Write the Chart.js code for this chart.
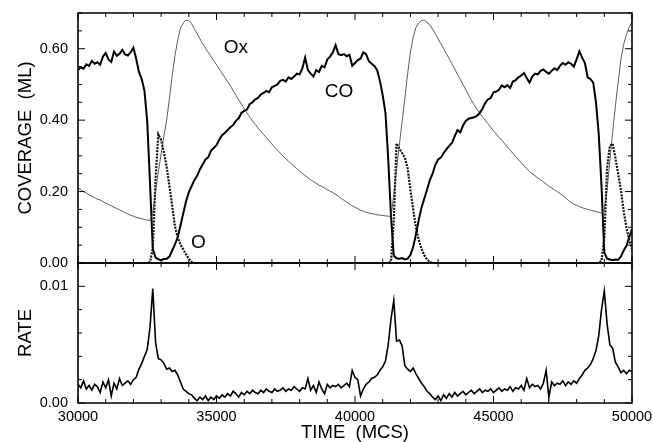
<!DOCTYPE html>
<html>
<head>
<meta charset="utf-8">
<script src="https://cdn.jsdelivr.net/npm/chart.js@4"></script>
<style>
  body { margin: 0; background: #fff; }
</style>
</head>
<body>
<canvas id="cycle" width="653" height="442"></canvas>
<script>
// oscillation run, sampled every 100 MCS from 30000 to 50000

const tStart = 30000
const tStep = 100
const times = Array.from({ length: 201 }, (_, i) => tStart + i * tStep)

// coverage (ML)
const coverageCO = [
  0.540, 0.548, 0.544, 0.556, 0.552, 0.566, 0.558, 0.562, 0.555, 0.578,
  0.588, 0.570, 0.563, 0.592, 0.580, 0.586, 0.597, 0.584, 0.581, 0.590,
  0.603, 0.572, 0.535, 0.515, 0.482, 0.395, 0.224, 0.040, 0.015, 0.010,
  0.008, 0.011, 0.012, 0.018, 0.035, 0.052, 0.072, 0.105, 0.139, 0.172,
  0.198, 0.215, 0.232, 0.244, 0.262, 0.276, 0.290, 0.296, 0.314, 0.322,
  0.330, 0.345, 0.358, 0.364, 0.372, 0.380, 0.386, 0.398, 0.405, 0.420,
  0.426, 0.430, 0.445, 0.450, 0.458, 0.462, 0.472, 0.476, 0.482, 0.478,
  0.492, 0.496, 0.500, 0.510, 0.513, 0.508, 0.520, 0.515, 0.522, 0.530,
  0.528, 0.545, 0.575, 0.540, 0.530, 0.522, 0.540, 0.535, 0.552, 0.548,
  0.570, 0.578, 0.590, 0.610, 0.585, 0.582, 0.585, 0.579, 0.583, 0.552,
  0.560, 0.568, 0.572, 0.590, 0.585, 0.565, 0.558, 0.552, 0.540, 0.510,
  0.470, 0.420, 0.290, 0.130, 0.020, 0.013, 0.012, 0.014, 0.010, 0.012,
  0.022, 0.045, 0.080, 0.120, 0.155, 0.180, 0.205, 0.232, 0.250, 0.275,
  0.290, 0.295, 0.308, 0.318, 0.328, 0.336, 0.355, 0.372, 0.366, 0.385,
  0.398, 0.404, 0.406, 0.408, 0.412, 0.420, 0.432, 0.448, 0.458, 0.462,
  0.478, 0.480, 0.485, 0.497, 0.492, 0.498, 0.490, 0.508, 0.512, 0.520,
  0.525, 0.532, 0.518, 0.505, 0.522, 0.530, 0.528, 0.538, 0.542, 0.535,
  0.530, 0.538, 0.545, 0.540, 0.552, 0.560, 0.555, 0.562, 0.558, 0.550,
  0.570, 0.593, 0.575, 0.560, 0.520, 0.515, 0.505, 0.450, 0.360, 0.215,
  0.030, 0.012, 0.010, 0.008, 0.010, 0.009, 0.018, 0.035, 0.048, 0.072,
  0.095
]

const coverageOx = [
  0.210, 0.205, 0.200, 0.196, 0.191, 0.187, 0.183, 0.179, 0.176, 0.172,
  0.168, 0.164, 0.160, 0.156, 0.152, 0.149, 0.145, 0.141, 0.137, 0.134,
  0.131, 0.128, 0.126, 0.124, 0.122, 0.120, 0.119, 0.140, 0.200, 0.255,
  0.305, 0.355, 0.400, 0.460, 0.525, 0.580, 0.625, 0.658, 0.672, 0.680,
  0.678, 0.670, 0.656, 0.642, 0.628, 0.614, 0.602, 0.590, 0.578, 0.567,
  0.555, 0.543, 0.532, 0.520, 0.508, 0.496, 0.483, 0.470, 0.457, 0.445,
  0.432, 0.420, 0.409, 0.398, 0.388, 0.378, 0.369, 0.360, 0.351, 0.342,
  0.333, 0.324, 0.316, 0.308, 0.300, 0.292, 0.285, 0.278, 0.271, 0.264,
  0.257, 0.251, 0.245, 0.239, 0.233, 0.228, 0.223, 0.218, 0.214, 0.210,
  0.205, 0.201, 0.197, 0.192, 0.187, 0.181, 0.176, 0.170, 0.165, 0.160,
  0.156, 0.152, 0.148, 0.145, 0.142, 0.140, 0.138, 0.137, 0.135, 0.134,
  0.133, 0.132, 0.131, 0.130, 0.190, 0.260, 0.330, 0.395, 0.462, 0.530,
  0.590, 0.632, 0.660, 0.672, 0.679, 0.680, 0.674, 0.667, 0.655, 0.642,
  0.628, 0.614, 0.600, 0.586, 0.572, 0.558, 0.543, 0.528, 0.514, 0.500,
  0.485, 0.470, 0.456, 0.443, 0.431, 0.420, 0.410, 0.400, 0.390, 0.380,
  0.370, 0.361, 0.352, 0.343, 0.334, 0.325, 0.316, 0.307, 0.298, 0.289,
  0.281, 0.272, 0.264, 0.256, 0.250, 0.244, 0.238, 0.233, 0.227, 0.221,
  0.215, 0.210, 0.205, 0.200, 0.195, 0.189, 0.183, 0.176, 0.170, 0.165,
  0.162, 0.158, 0.155, 0.152, 0.150, 0.148, 0.146, 0.144, 0.142, 0.140,
  0.150, 0.205, 0.285, 0.365, 0.440, 0.505, 0.570, 0.612, 0.640, 0.660,
  0.675
]

const coverageO = [
  0, 0, 0, 0, 0, 0, 0, 0, 0, 0,
  0, 0, 0, 0, 0, 0, 0, 0, 0, 0,
  0, 0, 0, 0, 0, 0, 0.003, 0.040, 0.235, 0.360,
  0.345, 0.310, 0.270, 0.215, 0.160, 0.102, 0.072, 0.052, 0.038, 0.024,
  0.012, 0.003, 0, 0, 0, 0, 0, 0, 0, 0,
  0, 0, 0, 0, 0, 0, 0, 0, 0, 0,
  0, 0, 0, 0, 0, 0, 0, 0, 0, 0,
  0, 0, 0, 0, 0, 0, 0, 0, 0, 0,
  0, 0, 0, 0, 0, 0, 0, 0, 0, 0,
  0, 0, 0, 0, 0, 0, 0, 0, 0, 0,
  0, 0, 0, 0, 0, 0, 0, 0, 0, 0,
  0, 0, 0, 0.004, 0.120, 0.335, 0.320, 0.308, 0.295, 0.265,
  0.205, 0.150, 0.100, 0.065, 0.040, 0.022, 0.010, 0.003, 0, 0,
  0, 0, 0, 0, 0, 0, 0, 0, 0, 0,
  0, 0, 0, 0, 0, 0, 0, 0, 0, 0,
  0, 0, 0, 0, 0, 0, 0, 0, 0, 0,
  0, 0, 0, 0, 0, 0, 0, 0, 0, 0,
  0, 0, 0, 0, 0, 0, 0, 0, 0, 0,
  0, 0, 0, 0, 0, 0, 0, 0, 0, 0.006,
  0.070, 0.265, 0.328, 0.334, 0.295, 0.250, 0.205, 0.145, 0.098, 0.065,
  0.040
]

// CO2 production rate
const rate = [
  0.0016, 0.0013, 0.0019, 0.0012, 0.0015, 0.0011, 0.0016, 0.0014, 0.0009, 0.0018,
  0.0013, 0.0020, 0.0006, 0.0017, 0.0012, 0.0021, 0.0015, 0.0017, 0.0019, 0.0016,
  0.0020, 0.0022, 0.0029, 0.0034, 0.0040, 0.0046, 0.0065, 0.0098, 0.0052, 0.0038,
  0.0037, 0.0034, 0.0029, 0.0030, 0.0027, 0.0028, 0.0024, 0.0018, 0.0012, 0.0010,
  0.0008, 0.0007, 0.0004, 0.0002, 0.0005, 0.0003, 0.0006, 0.0002, 0.0005, 0.0003,
  0.0006, 0.0004, 0.0007, 0.0005, 0.0008, 0.0006, 0.0010, 0.0008, 0.0005, 0.0009,
  0.0007, 0.0010, 0.0008, 0.0011, 0.0009, 0.0008, 0.0011, 0.0009, 0.0012, 0.0010,
  0.0009, 0.0012, 0.0010, 0.0011, 0.0013, 0.0010, 0.0012, 0.0011, 0.0014, 0.0012,
  0.0010, 0.0013, 0.0012, 0.0021, 0.0011, 0.0015, 0.0009, 0.0018, 0.0012, 0.0008,
  0.0016, 0.0013, 0.0015, 0.0014, 0.0016, 0.0013, 0.0015, 0.0017, 0.0014, 0.0028,
  0.0022, 0.0020, 0.0006, 0.0012, 0.0016, 0.0018, 0.0021, 0.0022, 0.0024, 0.0028,
  0.0031, 0.0036, 0.0050, 0.0072, 0.0088, 0.0053, 0.0054, 0.0049, 0.0032, 0.0029,
  0.0027, 0.0030, 0.0025, 0.0021, 0.0017, 0.0014, 0.0010, 0.0008, 0.0005, 0.0003,
  0.0006, 0.0002, 0.0007, 0.0004, 0.0008, 0.0005, 0.0009, 0.0006, 0.0008, 0.0010,
  0.0007, 0.0009, 0.0011, 0.0008, 0.0010, 0.0012, 0.0009, 0.0011, 0.0010, 0.0012,
  0.0009, 0.0011, 0.0013, 0.0010, 0.0012, 0.0011, 0.0014, 0.0010, 0.0013, 0.0012,
  0.0015, 0.0011, 0.0021, 0.0013, 0.0016, 0.0014, 0.0015, 0.0012, 0.0017, 0.0028,
  0.0005, 0.0018, 0.0015, 0.0017, 0.0016, 0.0019, 0.0015, 0.0018, 0.0016, 0.0019,
  0.0017, 0.0021, 0.0024, 0.0028, 0.0030, 0.0033, 0.0038, 0.0045, 0.0058, 0.0080,
  0.0096, 0.0068, 0.0050, 0.0047, 0.0035, 0.0031, 0.0026, 0.0028, 0.0025, 0.0028,
  0.0027
]

// curve names written inside the top panel, at (time, coverage)
const curveNames = ['Ox', 'CO', 'O']
const nameTimes = [35700, 39420, 34350]
const nameCoverage = [0.589, 0.466, 0.042]

const FONT = '"Liberation Sans", Arial, Helvetica, sans-serif'

const points = vals => vals.map((v, i) => ({ x: times[i], y: v }))

// box round each panel with inward ticks, plus the curve names
const panelFrames = {
  id: 'panelFrames',
  afterDraw(chart) {
    const { ctx, scales } = chart
    const xs = scales.x
    const tick = (x1, y1, x2, y2) => {
      ctx.beginPath(); ctx.moveTo(x1, y1); ctx.lineTo(x2, y2); ctx.stroke()
    }
    ctx.save()
    ctx.strokeStyle = '#000'
    for (const ys of [scales.cov, scales.rate]) {
      ctx.lineWidth = 1
      for (const t of xs.ticks) {
        const px = xs.getPixelForValue(t.value)
        const len = t.value % 5000 === 0 ? 7 : 4
        tick(px, ys.top, px, ys.top + len)
        tick(px, ys.bottom, px, ys.bottom - len)
      }
      for (const t of ys.ticks) {
        const py = ys.getPixelForValue(t.value)
        const len = t.label ? 7 : 4
        tick(xs.left, py, xs.left + len, py)
        tick(xs.right, py, xs.right - len, py)
      }
      ctx.lineWidth = 1.6
      ctx.beginPath()
      ctx.rect(xs.left, ys.top, xs.right - xs.left, ys.bottom - ys.top)
      ctx.stroke()
    }
    ctx.fillStyle = '#000'
    ctx.font = '19px ' + FONT
    ctx.textAlign = 'center'
    ctx.textBaseline = 'alphabetic'
    curveNames.forEach((name, i) => {
      ctx.fillText(name, xs.getPixelForValue(nameTimes[i]), scales.cov.getPixelForValue(nameCoverage[i]))
    })
    ctx.restore()
  }
}

// keep the plot box where the figure has it: no room kept for half-labels
const fitWidth = s => { s.width = 78; s.paddingTop = 0; s.paddingBottom = 0 }

const tickFont = { family: FONT, size: 14.5 }
const titleFont = { family: FONT, size: 18.5, lineHeight: 1 }

const chart = new Chart(document.getElementById('cycle').getContext('2d'), {
  type: 'line',
  data: {
    datasets: [
      { label: 'Ox', data: points(coverageOx), yAxisID: 'cov', borderColor: '#333', borderWidth: 0.8 },
      { label: 'O', data: points(coverageO), yAxisID: 'cov', borderColor: '#111', borderWidth: 2.2, borderDash: [2, 1.2] },
      { label: 'CO', data: points(coverageCO), yAxisID: 'cov', borderColor: '#000', borderWidth: 2 },
      { label: 'Rate', data: points(rate), yAxisID: 'rate', borderColor: '#000', borderWidth: 1.6 }
    ]
  },
  options: {
    responsive: false,
    animation: false,
    elements: { point: { radius: 0 }, line: { tension: 0 } },
    layout: { padding: { top: 13, right: 21, left: 0, bottom: 0 } },
    plugins: { legend: { display: false }, tooltip: { enabled: false } },
    scales: {
      x: {
        type: 'linear',
        min: 30000,
        max: 50000,
        grid: { display: false, drawTicks: false },
        border: { display: false },
        ticks: {
          stepSize: 1000, autoSkip: false, maxRotation: 0, padding: 5,
          color: '#000', font: tickFont,
          callback: v => v % 5000 === 0 ? String(v) : ''
        },
        title: { display: true, text: 'TIME  (MCS)', color: '#000', font: titleFont, padding: 0 },
        afterFit: s => { s.height = 39; s.paddingLeft = 0; s.paddingRight = 0 }
      },
      rate: {
        type: 'linear',
        position: 'left',
        stack: 'panels',
        stackWeight: 140,
        min: 0,
        max: 0.012,
        grid: { display: false, drawTicks: false },
        border: { display: false },
        ticks: {
          stepSize: 0.002, autoSkip: false, padding: 10,
          color: '#000', font: tickFont,
          callback: v => Math.round(v * 1000) % 10 === 0 ? v.toFixed(2) : ''
        },
        title: { display: true, text: 'RATE', color: '#000', font: titleFont, padding: { top: 17, bottom: 0 } },
        afterFit: fitWidth
      },
      cov: {
        type: 'linear',
        position: 'left',
        stack: 'panels',
        stackWeight: 250,
        min: 0,
        max: 0.7,
        grid: { display: false, drawTicks: false },
        border: { display: false },
        ticks: {
          stepSize: 0.05, autoSkip: false, padding: 10,
          color: '#000', font: tickFont,
          callback: v => Math.round(v * 100) % 20 === 0 ? v.toFixed(2) : ''
        },
        title: { display: true, text: 'COVERAGE  (ML)', color: '#000', font: titleFont, padding: { top: 17, bottom: 0 } },
        afterFit: fitWidth
      }
    }
  },
  plugins: [panelFrames]
})
</script>
</body>
</html>
